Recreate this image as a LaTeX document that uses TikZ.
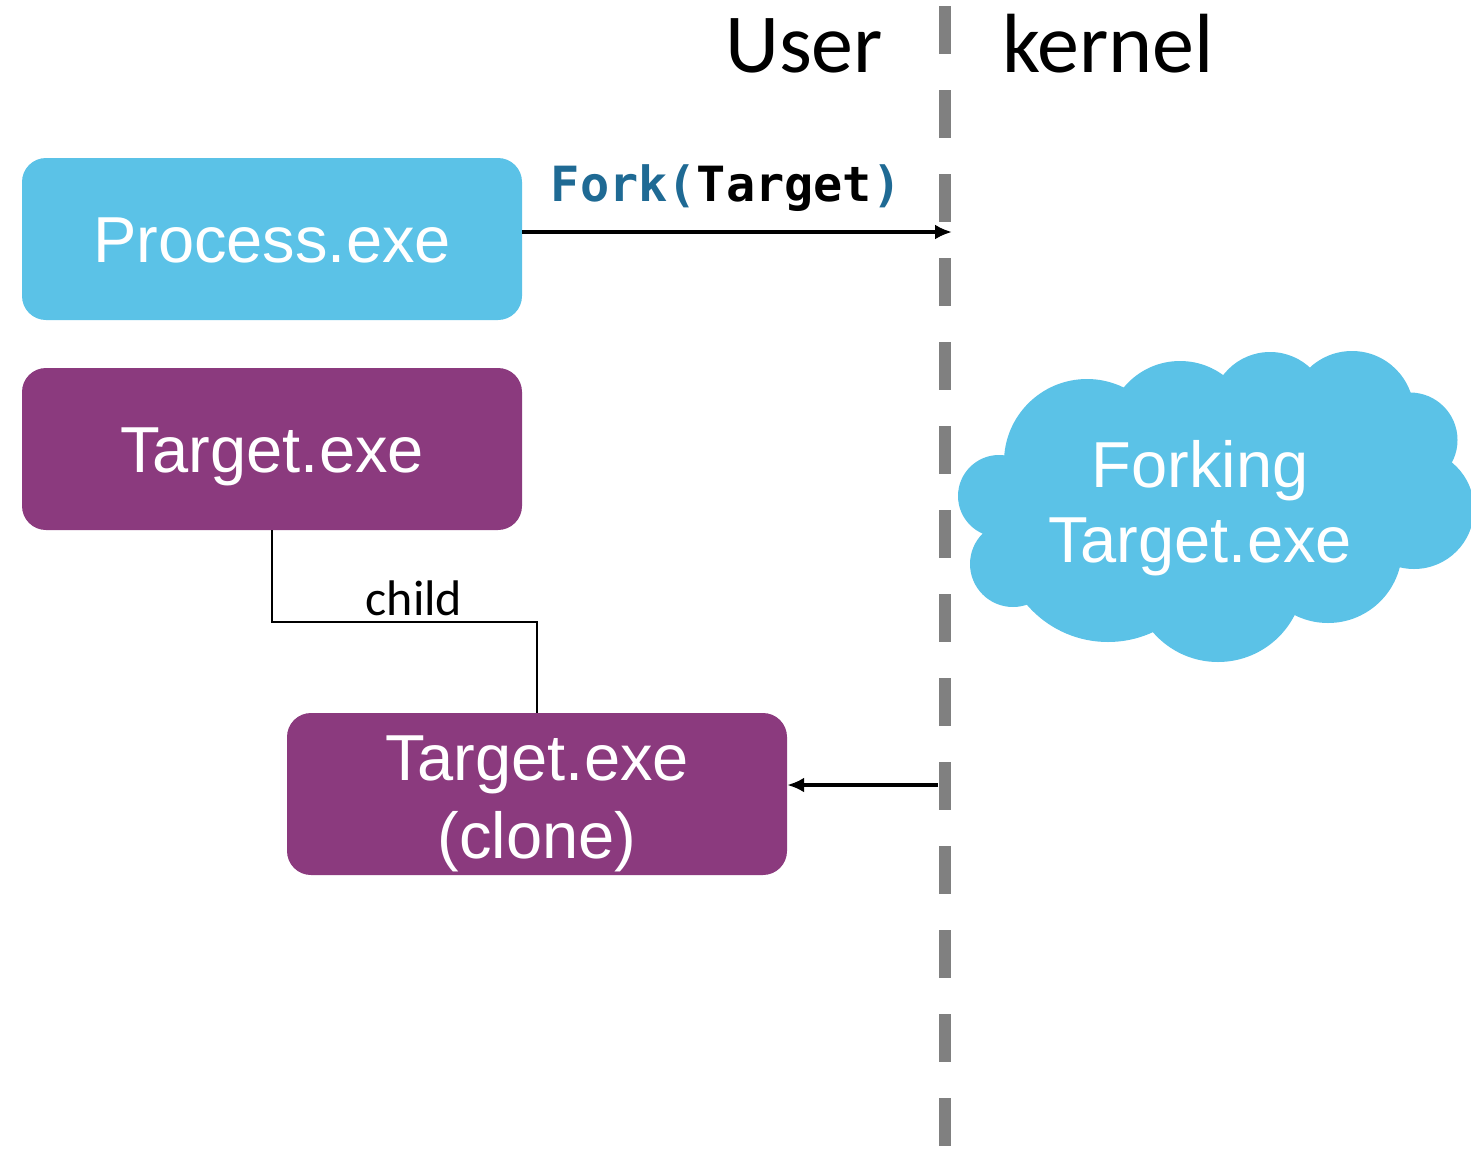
\documentclass[tikz,border=0pt]{standalone}
\usepackage{fontspec}
\setmainfont{Liberation Sans}
\newfontfamily\calfont{Carlito}
\newfontfamily\codefont{DejaVu Sans Mono}
\usetikzlibrary{arrows.meta}
\definecolor{skyb}{HTML}{5BC2E7}
\definecolor{plum}{HTML}{8B3A7E}
\definecolor{codeblue}{HTML}{1F6A94}
\definecolor{divgray}{HTML}{808080}
\tikzset{
  box/.style={rounded corners=24pt, minimum width=500pt, minimum height=162pt, inner sep=0pt,
    text=white, font=\fontsize{65}{75}\selectfont, text height=47pt, text depth=0pt},
  boxtxt/.style={anchor=base, inner sep=0pt, text=white, font=\fontsize{65}{75}\selectfont},
  conn/.style={line width=3.5pt, -{Latex[length=17pt,width=15pt]}},
  head/.style={anchor=base, inner sep=0pt, font=\calfont\fontsize{84}{90}\selectfont}
}
\begin{document}
\begin{tikzpicture}[x=1pt,y=-1pt]
\useasboundingbox (0,0) rectangle (1471,1151);
% divider
\coordinate (dtop) at (945,6);
\coordinate (dbot) at (945,1146);
\draw[divgray, line width=12pt, dash pattern=on 48pt off 36pt] (dtop) -- (dbot);
% headings
\node[head] (user) at (804,72) {User};
\node[head] (kern) at (1108,72) {kernel};
% boxes
\node[box, fill=skyb] (proc) at (272,239) {Process.exe};
\node[box, fill=plum] (targ) at (272,449) {Target.exe};
\node[box, fill=plum] (clone) at (537,794) {};
\node[boxtxt] (cl1) at (537,780) {Target.exe};
\node[boxtxt] (cl2) at (537,858) {(clone)};
% cloud (union of puffs)
\begin{scope}[skyb]
\fill (983,533) -- (1005,455) -- (1123,388) -- (1223,375) -- (1310,368) -- (1410,392)
  -- (1452,462) -- (1400,567) -- (1295,615) -- (1153,632) -- (1027,605) -- cycle;
\fill (999,496) circle[radius=41];
\fill (1087,462) circle[radius=83];
\fill (1180,434) circle[radius=73];
\fill (1270,411) circle[radius=59];
\fill (1352,413) circle[radius=62];
\fill (1410,440) circle[radius=47.5];
\fill (1414,509) circle[radius=60];
\fill (1328,549) circle[radius=74];
\fill (1218,576) circle[radius=86];
\fill (1108,535) circle[radius=107];
\fill (1013,564) circle[radius=43];
\end{scope}
\node[boxtxt] (ck1) at (1200,487) {Forking};
\node[boxtxt] (ck2) at (1200,562) {Target.exe};
% fork call
\coordinate (forkend) at (952,232);
\draw[conn] (proc.east |- forkend) -- (forkend);
\node[anchor=base, inner sep=0pt, font=\codefont\bfseries\fontsize{48.5}{54}\selectfont] (fork) at (726,201)
  {\textcolor{codeblue}{Fork(}Target\textcolor{codeblue}{)}};
% return arrow
\coordinate (retstart) at (938,785);
\draw[conn] (retstart) -- (clone.east |- retstart);
% child connector
\draw[line width=2.5pt] (targ.south) -- (272,622) -- (537,622) -- (clone.north);
\node[anchor=base, inner sep=0pt, font=\calfont\fontsize{50}{56}\selectfont] (child) at (414,615) {child};
\end{tikzpicture}
\end{document}
